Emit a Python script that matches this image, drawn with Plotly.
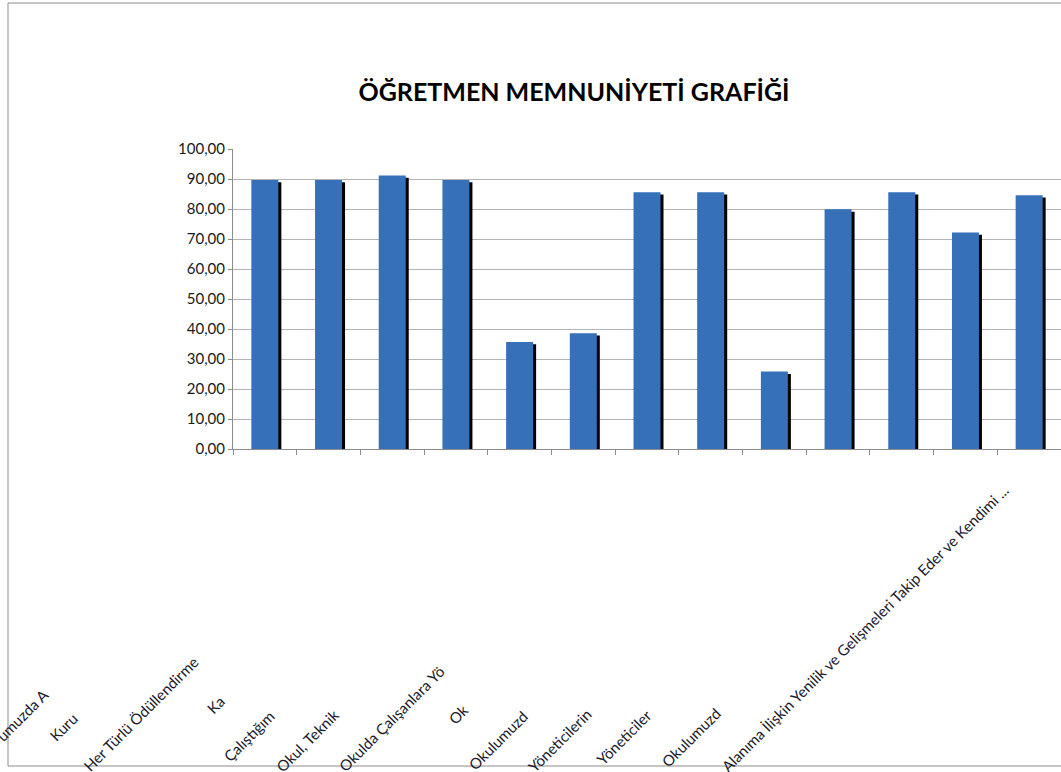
import plotly.graph_objects as go

# ---- data ----
label_texts = [
    "umuzda A",
    "Kuru",
    "Her Türlü Ödüllendirme",
    "Ka",
    "Çalıştığım",
    "Okul, Teknik",
    "Okulda Çalışanlara Yö",
    "Ok",
    "Okulumuzd",
    "Yöneticilerin",
    "Yöneticiler",
    "Okulumuzd",
    "Alanıma İlişkin Yenilik ve Gelişmeleri Takip Eder ve Kendimi ...",
]
values = [89.7, 89.7, 91.2, 89.7, 35.7, 38.6, 85.6, 85.6, 25.8, 79.9, 85.6, 72.2, 84.6]
y_ticks = [0, 10, 20, 30, 40, 50, 60, 70, 80, 90, 100]
title_text = "ÖĞRETMEN MEMNUNİYETİ GRAFİĞİ"

# ---- layout geometry (pixels) ----
W, H = 1061, 772
L, R, T, B = 233, 0, 149, 323
pw, ph = W - L - R, H - T - B
# bottom-left start points of the rotated category label texts
label_starts = [(0, 740), (53, 740), (87, 770), (210, 712), (227, 760), (280, 770),
                (342, 770), (452, 722), (472, 768), (532, 770), (600, 763), (665, 765),
                (725, 770)]

def px_to_paper(x, y):
    return (x - L) / pw, (H - B - y) / ph

n = len(values)
xs = list(range(n))
bar_w = 0.424
shadow_dx = 3 / (pw / n)

fig = go.Figure()
fig.add_trace(go.Bar(
    x=xs, y=values, base=-0.8, width=bar_w, offset=-bar_w / 2 + shadow_dx,
    marker=dict(color="#000000", line=dict(width=0)), hoverinfo="skip", showlegend=False,
))
fig.add_trace(go.Bar(
    x=xs, y=values, width=bar_w, offset=-bar_w / 2,
    marker=dict(color="#3570B8", line=dict(width=0)), showlegend=False,
))

annotations = []
for txt, (sx, sy) in zip(label_texts, label_starts):
    ax, ay = px_to_paper(sx - 10, sy + 8)
    annotations.append(dict(
        text=txt, x=ax, y=ay, xref="paper", yref="paper",
        xanchor="left", yanchor="bottom", textangle=-45, showarrow=False,
        font=dict(family="Lato", size=15, color="#1a1a2a"),
    ))

bx0, by0 = px_to_paper(8, 766)
bx1, by1 = px_to_paper(1075, 3)

fig.update_layout(
    width=W, height=H,
    margin=dict(l=L, r=R, t=T, b=B),
    paper_bgcolor="white", plot_bgcolor="white",
    barmode="overlay",
    separators=",.",
    title=dict(text=title_text, x=574 / W, y=1 - 92 / H, xref="container", yref="container",
               xanchor="center", yanchor="middle",
               font=dict(family="Lato", size=25, color="black", weight="bold")),
    xaxis=dict(range=[-0.5, n - 0.5], showgrid=False, zeroline=False,
               showline=True, linecolor="#8C8C8C", linewidth=1,
               tickmode="array", tickvals=[i + 0.5 for i in range(-1, n)],
               ticktext=[""] * (n + 1), ticks="outside", ticklen=5, tickcolor="#8C8C8C",
               showticklabels=False),
    yaxis=dict(range=[0, 100], tickvals=y_ticks, tickformat=".2f",
               showgrid=True, gridcolor="#B4B4B4", gridwidth=1, zeroline=False,
               showline=True, linecolor="#8C8C8C", linewidth=1,
               ticks="outside", ticklen=4, tickcolor="#8C8C8C",
               tickfont=dict(family="Lato", size=15, color="#1a1a1a")),
    annotations=annotations,
    shapes=[dict(type="rect", xref="paper", yref="paper", x0=bx0, y0=by0, x1=bx1, y1=by1,
                 line=dict(color="#8C8C8C", width=1), fillcolor="rgba(0,0,0,0)", layer="below")],
)

fig.write_html("out.html", config={"displayModeBar": False},
               post_script="document.body.style.margin='0';")
